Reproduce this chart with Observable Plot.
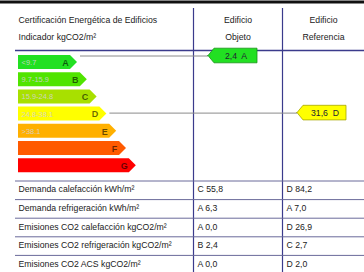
<!DOCTYPE html>
<html><head><meta charset="utf-8">
<script src="https://cdn.jsdelivr.net/npm/d3@7"></script>
<script src="https://cdn.jsdelivr.net/npm/@observablehq/plot@0.6"></script>
<style>body{margin:0;background:#fff}</style>
</head><body><div id="chart"></div>
<script>
// ---- data ----
const classes = ["A", "B", "C", "D", "E", "F", "G"];
const ranges = ["<9.7", "9.7-15.9", "15.9-24.8", "24.8-38.1", ">38.1", "", ""];
const classColors = ["#22e022", "#50e400", "#a8e000", "#ffff00", "#ffb000", "#ff5a00", "#ff0000"];
const titleLines = ["Certificación Energética de Edificios", "Indicador kgCO2/m²"];
const objetoHeader = ["Edificio", "Objeto"];
const referenciaHeader = ["Edificio", "Referencia"];
const objetoIndicator = {value: "2,4", cls: "A"};
const referenciaIndicator = {value: "31,6", cls: "D"};
const rowLabels = [
  "Demanda calefacción kWh/m²",
  "Demanda refrigeración kWh/m²",
  "Emisiones CO2 calefacción kgCO2/m²",
  "Emisiones CO2 refrigeración kgCO2/m²",
  "Emisiones CO2 ACS kgCO2/m²"
];
const objetoCells = ["C 55,8", "A 6,3", "A 0,0", "B 2,4", "A 0,0"];
const referenciaCells = ["D 84,2", "A 7,0", "D 26,9", "C 2,7", "D 2,0"];

// ---- layout ----
const W = 364, H = 272;
const font = "Liberation Sans, Arial, sans-serif";
const fs = 8.7;
const col1 = 193, col2 = 282;
const barX0 = 18, rowTop0 = 55, rowStep = 17.2, rowH = 14, tip0 = 77, tipStep = 9.8, tipLen = 7;
const rowTopY = i => rowTop0 + i * rowStep;
const rowMidY = i => rowTopY(i) + rowH / 2;
const tipX = i => tip0 + i * tipStep;

const classArea = classes.flatMap((c, i) => [
  {c, x: barX0, y1: rowTopY(i), y2: rowTopY(i) + rowH},
  {c, x: tipX(i) - tipLen, y1: rowTopY(i), y2: rowTopY(i) + rowH},
  {c, x: tipX(i), y1: rowMidY(i), y2: rowMidY(i)}
]);
const classInfo = classes.map((c, i) => ({c, i, range: ranges[i], color: classColors[i]}));

function indicator(ind, tx, right, dy) {
  const i = classes.indexOf(ind.cls);
  const y = rowMidY(i) + dy;
  return {
    i, y, tx, right,
    color: classColors[i],
    label: `${ind.value}  ${ind.cls}`,
    pts: [
      {x: tx, y1: y, y2: y},
      {x: tx + 6, y1: y - 7.3, y2: y + 7.3},
      {x: right, y1: y - 7.3, y2: y + 7.3}
    ]
  };
}
const indObj = indicator(objetoIndicator, 208, 257, -6.5);
const indRef = indicator(referenciaIndicator, 297, 346, -1);

const tableRows = rowLabels.map((label, i) => ({label, obj: objetoCells[i], ref: referenciaCells[i], y: 189 + i * 18.7, line: 180.5 + i * 18.6}));

const navy = "#3b3b8c";

const chart = Plot.plot({
  width: W, height: H,
  margin: 0,
  x: {domain: [0, W], range: [0, W], axis: null},
  y: {domain: [0, H], range: [0, H], axis: null},
  style: {fontFamily: font, background: "#fff"},
  marks: [
    Plot.ruleY([1.5], {x1: 0, x2: W, stroke: "#111", strokeWidth: 3}),
    Plot.ruleX([col1, col2], {y1: 8, y2: H, stroke: navy, strokeWidth: 1.2}),
    Plot.ruleY([50], {x1: 15, x2: W, stroke: navy, strokeWidth: 1.4}),
    Plot.text(titleLines, {x: 18, y: (d, i) => 20 + i * 17, text: d => d, textAnchor: "start", fontSize: fs, fill: "#222"}),
    Plot.text(objetoHeader, {x: (col1 + col2) / 2, y: (d, i) => 20 + i * 17, text: d => d, fontSize: fs, fill: "#222"}),
    Plot.text(referenciaHeader, {x: (col2 + W) / 2, y: (d, i) => 20 + i * 17, text: d => d, fontSize: fs, fill: "#222"}),
    ...classInfo.map(ci => Plot.area(classArea.filter(d => d.c === ci.c), {x1: "x", y1: "y1", y2: "y2", fill: ci.color, curve: "linear"})),
    Plot.text(classInfo, {x: barX0 + 3, y: d => rowMidY(d.i), text: "range", textAnchor: "start", fontSize: 7.5, fill: "#d2d2d2", fillOpacity: 0.9}),
    Plot.text(classInfo, {x: d => tipX(d.i) - 12, y: d => rowMidY(d.i) + 0.5, text: "c", fontSize: 9, fontWeight: "bold", fill: "#000", fillOpacity: 0.6}),
    ...[indObj, indRef].map(ind => Plot.ruleY([ind.y], {x1: tipX(ind.i) + 3, x2: ind.tx, stroke: "#8a8a8a", strokeWidth: 1})),
    ...[indObj, indRef].map(ind => Plot.area(ind.pts, {x1: "x", y1: "y1", y2: "y2", fill: ind.color, stroke: d3.color(ind.color).darker(1.2).formatHex(), strokeWidth: 0.8, curve: "linear"})),
    Plot.text([indObj, indRef], {x: d => (d.tx + 6 + d.right) / 2, y: d => d.y + 0.5, text: "label", fontSize: fs, fill: "#223", fontWeight: "500"}),
    Plot.ruleY(tableRows, {y: "line", x1: 15, x2: W, stroke: "#6a6a9a", strokeWidth: 1}),
    Plot.text(tableRows, {x: 18, y: "y", text: "label", textAnchor: "start", fontSize: fs, fill: "#222"}),
    Plot.text(tableRows, {x: col1 + 4, y: "y", text: "obj", textAnchor: "start", fontSize: fs, fill: "#222"}),
    Plot.text(tableRows, {x: col2 + 4, y: "y", text: "ref", textAnchor: "start", fontSize: fs, fill: "#222"})
  ]
});
document.getElementById("chart").append(chart);
</script>
</body></html>
